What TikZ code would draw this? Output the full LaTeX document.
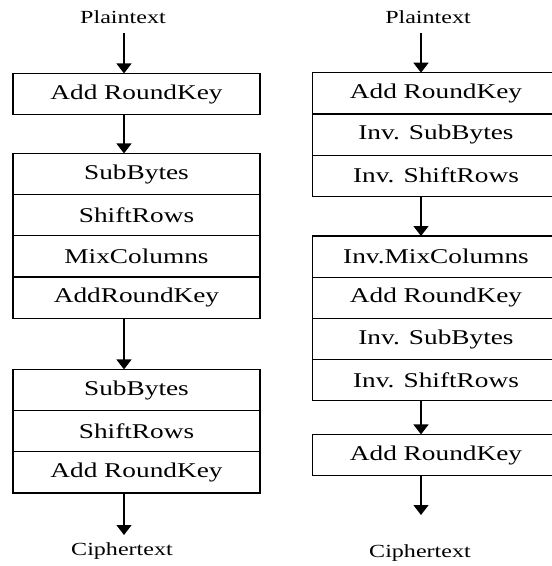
\documentclass[tikz,border=0pt]{standalone}
\usepackage{fontspec}
\setmainfont[FakeStretch=1.3]{Liberation Serif}
\usetikzlibrary{arrows.meta,positioning}
\tikzstyle{cell}=[draw,line width=1.2pt,outer sep=0pt,inner sep=0pt,minimum width=247pt,minimum height=41.2pt,font=\fontsize{21}{24}\selectfont]
\tikzstyle{io text}=[font=\fontsize{18.5}{22}\selectfont,inner sep=0pt]
\tikzstyle{flow}=[draw,line width=1.5pt,-{Triangle[width=15pt,length=10pt]}]

\begin{document}
\begin{tikzpicture}[x=1pt,y=-1pt]
    \useasboundingbox (0,0) rectangle (552,566);
    % Plaintext and ciphertext labels
    \foreach \pos/\name/\txt in {{(123,17)/pL/Plaintext}, {(428,17)/pR/Plaintext}, {(122,551)/cL/Ciphertext}, {(420,553)/cR/Ciphertext}}
        \node[io text] (\name) at \pos {\txt};
    % where the arrows start and end
    \foreach \x/\y/\name in {124/33/sL, 421/33/sR, 124/535/eL, 421/515/eR}
        \coordinate (\name) at (\x,\y);

    % Encryption: first the top cell of every block
    \foreach \pos/\name/\txt in {{(136.5,94)/L1/Add RoundKey}, {(136.5,174)/L2a/SubBytes}, {(136.5,390)/L3a/SubBytes}}
        \node[cell] (\name) at \pos {\txt};
    % then the cells stacked below them
    \foreach \name/\prev/\txt in {L2b/L2a/ShiftRows, L2c/L2b/MixColumns, L2d/L2c/AddRoundKey, L3b/L3a/ShiftRows, L3c/L3b/Add RoundKey}
        \node[cell,below=0pt of \prev] (\name) {\txt};

    % Decryption
    \foreach \pos/\name/\txt in {{(436,93.3)/R1a/Add RoundKey}, {(436,256.6)/R2a/Inv.MixColumns}, {(436,455)/R3/Add RoundKey}}
        \node[cell] (\name) at \pos {\txt};
    \foreach \name/\prev/\txt in {R1b/R1a/Inv. SubBytes, R1c/R1b/Inv. ShiftRows, R2b/R2a/Add RoundKey, R2c/R2b/Inv. SubBytes, R2d/R2c/Inv. ShiftRows}
        \node[cell,below=0pt of \prev] (\name) {\txt};

    % Connect the blocks with arrows
    \path[flow] (sL) -- (L1.north -| sL);
    \foreach \source/\dest in {L1/L2a, L2d/L3a}
        \path[flow] (\source.south -| sL) -- (\dest.north -| sL);
    \path[flow] (L3c.south -| sL) -- (eL);

    \path[flow] (sR) -- (R1a.north -| sR);
    \foreach \source/\dest in {R1c/R2a, R2d/R3}
        \path[flow] (\source.south -| sR) -- (\dest.north -| sR);
    \path[flow] (R3.south -| sR) -- (eR);
\end{tikzpicture}
\end{document}
